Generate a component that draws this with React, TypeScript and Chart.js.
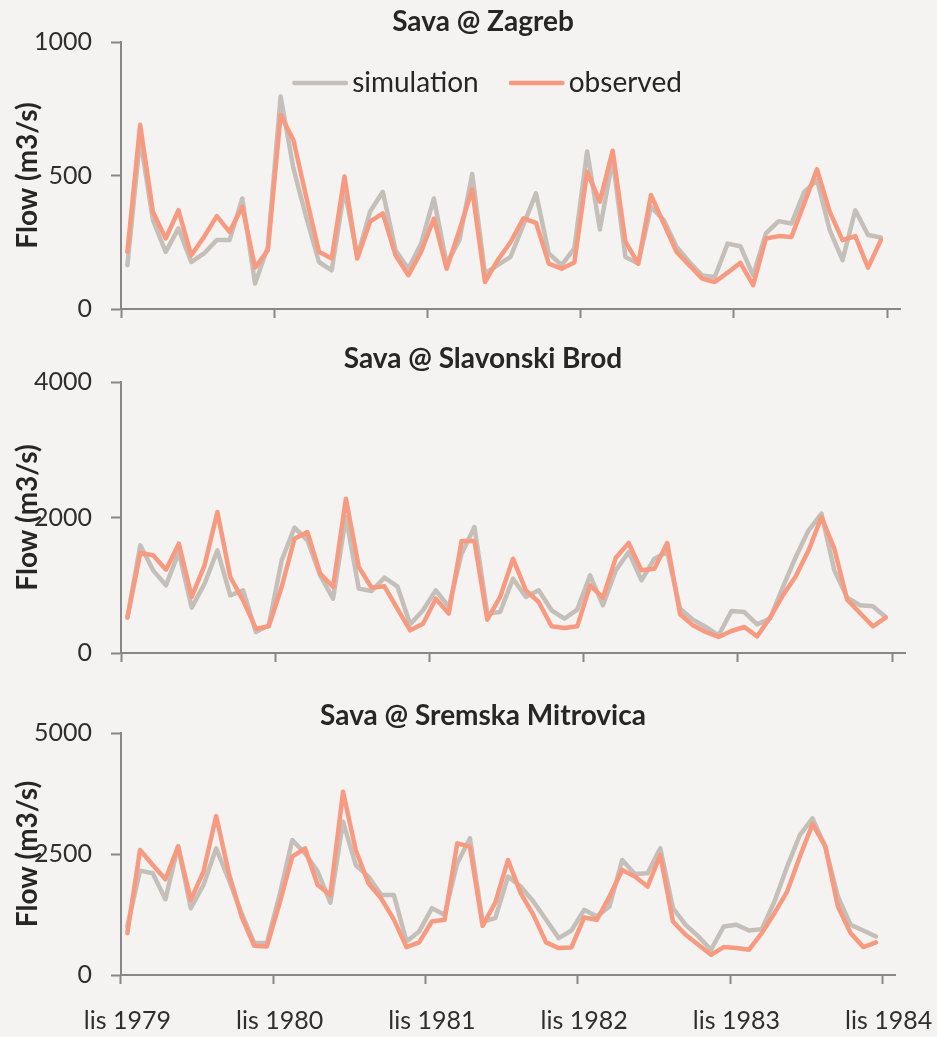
import React, { useEffect, useRef } from 'react';
import { Chart, registerables } from 'chart.js';

Chart.register(...registerables);
Chart.defaults.font.family = 'Lato';

// ---------- data ----------
const MONTHS_HR = ['lis', 'stu', 'pro', 'sij', 'velj', 'ožu', 'tra', 'svi', 'lip', 'srp', 'kol', 'ruj'];
const START_YEAR = 1979;
const N_CATEGORIES = 61;
const categories: string[] = [];
for (let i = 0; i < N_CATEGORIES; i++) {
  categories.push(`${MONTHS_HR[i % 12]} ${START_YEAR + Math.floor((i + 9) / 12)}`);
}
const LABEL_EVERY = 12;

const SERIES_NAMES = ['simulation', 'observed'];
const Y_TITLE = 'Flow (m3/s)';

const zagrebSim = [164, 640, 333, 214, 302, 176, 208, 258, 258, 414, 95, 233, 796, 527, 345, 176, 145, 450, 195, 364, 439, 220, 151, 245, 414, 170, 258, 506, 133, 164, 195, 314, 433, 208, 164, 227, 590, 298, 560, 195, 170, 383, 333, 233, 176, 126, 120, 245, 235, 126, 283, 329, 320, 439, 483, 295, 183, 370, 277, 268];
const zagrebObs = [214, 690, 364, 264, 370, 201, 270, 348, 289, 383, 155, 220, 727, 633, 420, 214, 189, 496, 189, 327, 358, 201, 126, 214, 339, 151, 295, 448, 101, 183, 250, 339, 323, 170, 151, 174, 514, 402, 593, 252, 170, 427, 320, 214, 164, 114, 101, 136, 173, 89, 264, 273, 270, 395, 523, 364, 258, 273, 155, 258];

const brodSim = [531, 1589, 1220, 999, 1491, 669, 1023, 1515, 851, 925, 310, 408, 1368, 1850, 1663, 1146, 802, 2007, 950, 915, 1112, 984, 423, 630, 925, 679, 1466, 1860, 581, 605, 1097, 827, 925, 630, 507, 640, 1146, 704, 1220, 1491, 1073, 1392, 1491, 654, 492, 384, 261, 620, 605, 423, 507, 974, 1417, 1811, 2057, 1220, 817, 704, 689, 531];
const brodObs = [522, 1476, 1442, 1230, 1614, 827, 1294, 2081, 1122, 777, 359, 394, 974, 1688, 1786, 1171, 974, 2278, 1269, 964, 984, 654, 335, 433, 802, 581, 1653, 1653, 492, 827, 1392, 925, 753, 394, 369, 394, 999, 817, 1407, 1624, 1220, 1245, 1624, 571, 408, 310, 236, 325, 384, 246, 522, 851, 1132, 1515, 2007, 1540, 787, 590, 394, 522];

const mitrovicaSim = [1003, 2157, 2102, 1566, 2665, 1380, 1861, 2617, 1964, 1277, 659, 659, 1655, 2788, 2514, 2136, 1497, 3166, 2273, 2033, 1655, 1655, 694, 900, 1380, 1243, 2308, 2823, 1106, 1174, 2033, 1827, 1518, 1140, 762, 920, 1346, 1209, 1415, 2376, 2088, 2102, 2617, 1380, 1037, 797, 522, 1003, 1037, 920, 948, 1518, 2239, 2891, 3235, 2651, 1621, 1037, 920, 797];
const mitrovicaObs = [865, 2582, 2273, 1978, 2651, 1552, 2136, 3283, 2102, 1209, 604, 591, 1483, 2445, 2617, 1861, 1655, 3784, 2582, 1896, 1586, 1150, 577, 673, 1106, 1140, 2720, 2651, 1016, 1497, 2376, 1690, 1243, 673, 556, 570, 1188, 1140, 1621, 2170, 2033, 1827, 2479, 1106, 831, 625, 419, 577, 556, 522, 865, 1277, 1724, 2445, 3118, 2665, 1415, 865, 577, 673];

// ---------- styles ----------
const SIM_COLOR = '#c4bfb9';
const OBS_COLOR = '#f79a80';
const AXIS_COLOR = '#878787';
const TEXT_COLOR = '#262626';
const TICK_TEXT = '#2e2e2e';
const BG = '#f4f3f1';
const W = 937;

type PanelCfg = {
  title: string;
  sim: number[];
  obs: number[];
  yMax: number;
  yStep: number;
  top: number;
  height: number;
  chartTop: number;
  chartBottom: number;
  chartRight: number;
  xHeight: number;
  showX: boolean;
  titleBaseline: number;
  legend: boolean;
};

const panels: PanelCfg[] = [
  { title: 'Sava @ Zagreb', sim: zagrebSim, obs: zagrebObs, yMax: 1000, yStep: 500, top: 0, height: 345, chartTop: 42, chartBottom: 309, chartRight: 900, xHeight: 10, showX: false, titleBaseline: 31, legend: true },
  { title: 'Sava @ Slavonski Brod', sim: brodSim, obs: brodObs, yMax: 4000, yStep: 2000, top: 345, height: 345, chartTop: 37, chartBottom: 308, chartRight: 905, xHeight: 10, showX: false, titleBaseline: 23, legend: false },
  { title: 'Sava @ Sremska Mitrovica', sim: mitrovicaSim, obs: mitrovicaObs, yMax: 5000, yStep: 2500, top: 690, height: 347, chartTop: 43, chartBottom: 285, chartRight: 895, xHeight: 61, showX: true, titleBaseline: 35, legend: false },
];

const panelTitlePlugin = {
  id: 'panelTitle',
  afterDraw(chart: any, _args: any, o: any) {
    if (!o || !o.text) return;
    const ctx = chart.ctx;
    ctx.save();
    ctx.font = `bold ${o.size}px Lato`;
    ctx.fillStyle = o.color;
    ctx.textAlign = 'center';
    ctx.textBaseline = 'alphabetic';
    ctx.fillText(o.text, o.x, o.y);
    ctx.restore();
  },
};

const inlineLegendPlugin = {
  id: 'inlineLegend',
  afterDraw(chart: any, _args: any, o: any) {
    if (!o || !o.display) return;
    const ctx = chart.ctx;
    ctx.save();
    ctx.font = `${o.size}px Lato`;
    const items = [...chart.data.datasets]
      .sort((a: any, b: any) => a.legendIndex - b.legendIndex)
      .map((ds: any) => ({ label: ds.label, color: ds.borderColor, width: ds.borderWidth }));
    const widths = items.map((it: any) => o.lineLength + o.textGap + ctx.measureText(it.label).width);
    const total = widths.reduce((a: number, b: number) => a + b, 0) + o.itemGap * (items.length - 1);
    let x = o.centerX - total / 2;
    items.forEach((it: any, i: number) => {
      ctx.strokeStyle = it.color;
      ctx.lineWidth = it.width;
      ctx.lineCap = 'round';
      ctx.beginPath();
      ctx.moveTo(x + it.width / 2, o.lineY);
      ctx.lineTo(x + o.lineLength - it.width / 2, o.lineY);
      ctx.stroke();
      ctx.fillStyle = o.color;
      ctx.textAlign = 'left';
      ctx.textBaseline = 'alphabetic';
      ctx.fillText(it.label, x + o.lineLength + o.textGap, o.baseline);
      x += widths[i] + o.itemGap;
    });
    ctx.restore();
  },
};

function Panel({ cfg }: { cfg: PanelCfg }) {
  const ref = useRef<HTMLCanvasElement>(null);
  useEffect(() => {
    const lineCommon = {
      borderWidth: 4.5,
      pointRadius: 0,
      pointHoverRadius: 0,
      tension: 0,
      fill: false,
      borderJoinStyle: 'round' as const,
      borderCapStyle: 'round' as const,
    };
    const chart = new Chart(ref.current as HTMLCanvasElement, {
      type: 'line',
      data: {
        labels: categories,
        datasets: [
          { ...lineCommon, label: SERIES_NAMES[0], data: cfg.sim, borderColor: SIM_COLOR, backgroundColor: SIM_COLOR, order: 2, legendIndex: 0 } as any,
          { ...lineCommon, label: SERIES_NAMES[1], data: cfg.obs, borderColor: OBS_COLOR, backgroundColor: OBS_COLOR, order: 1, legendIndex: 1 } as any,
        ],
      },
      options: {
        responsive: false,
        animation: false,
        devicePixelRatio: 1,
        events: [],
        layout: {
          padding: {
            top: cfg.chartTop,
            bottom: cfg.height - cfg.chartBottom - cfg.xHeight,
            left: 0,
            right: W - cfg.chartRight,
          },
        },
        plugins: {
          legend: { display: false },
          title: { display: false },
          tooltip: { enabled: false },
          panelTitle: { text: cfg.title, x: 483, y: cfg.titleBaseline, size: 28, color: TEXT_COLOR },
          inlineLegend: { display: cfg.legend, centerX: 487, lineY: 83, baseline: 92, size: 28, lineLength: 56, textGap: 4, itemGap: 30, color: TEXT_COLOR },
        } as any,
        scales: {
          x: {
            type: 'category',
            offset: true,
            grid: {
              offset: true,
              drawOnChartArea: false,
              drawTicks: true,
              tickLength: 9,
              tickWidth: 2,
              tickColor: (c: any) => (typeof c.index === 'number' && c.index % LABEL_EVERY === 0 ? AXIS_COLOR : 'rgba(0,0,0,0)'),
            },
            border: { display: true, color: AXIS_COLOR, width: 2 },
            ticks: {
              display: cfg.showX,
              autoSkip: false,
              maxRotation: 0,
              minRotation: 0,
              padding: 22,
              color: TICK_TEXT,
              font: { family: 'Lato', size: 25 },
              callback: (_v: any, i: number) => (i % LABEL_EVERY === 0 ? categories[i] : ''),
            },
            afterFit: (s: any) => {
              s.height = cfg.xHeight;
              s.paddingLeft = 0;
              s.paddingRight = 0;
            },
          },
          y: {
            min: 0,
            max: cfg.yMax,
            ticks: {
              stepSize: cfg.yStep,
              padding: 19,
              color: TICK_TEXT,
              font: { family: 'Lato', size: 25 },
              callback: (v: any) => String(v),
            },
            grid: { drawOnChartArea: false, drawTicks: true, tickLength: 10, tickWidth: 2, tickColor: AXIS_COLOR },
            border: { display: true, color: AXIS_COLOR, width: 2 },
            title: {
              display: true,
              text: Y_TITLE,
              color: TEXT_COLOR,
              font: { family: 'Lato', size: 28, weight: 'bold' },
              padding: { top: 11, bottom: 0 },
            },
            afterFit: (s: any) => { s.width = 121; },
          },
        },
      } as any,
      plugins: [panelTitlePlugin, inlineLegendPlugin],
    });
    return () => chart.destroy();
  }, [cfg]);
  return (
    <canvas
      ref={ref}
      width={W}
      height={cfg.height}
      style={{ position: 'absolute', left: 0, top: cfg.top, width: W, height: cfg.height, display: 'block' }}
    />
  );
}

export default function App() {
  return (
    <div style={{ position: 'absolute', left: 0, top: 0, width: W, height: 1037, background: BG, overflow: 'hidden' }}>
      {panels.map((p) => (
        <Panel key={p.title} cfg={p} />
      ))}
    </div>
  );
}
